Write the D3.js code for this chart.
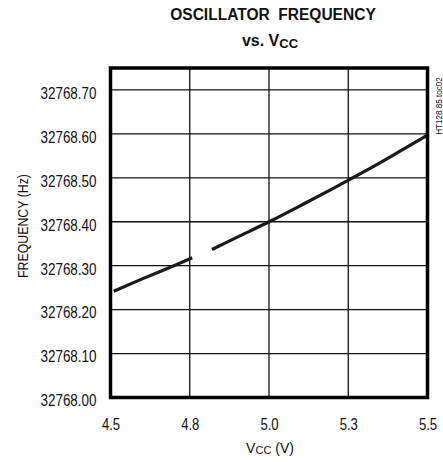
<!DOCTYPE html>
<html><head><meta charset="utf-8">
<script src="https://cdn.jsdelivr.net/npm/d3@7"></script>
<style>
body{margin:0;background:#fff;}
svg{display:block;}
text{font-family:"Liberation Sans Narrow","Arial Narrow","Liberation Sans",Arial,sans-serif;fill:#111;}
</style></head>
<body>
<svg id="c" width="443" height="462"></svg>
<script>
// Data (x in axis units; grid is equally spaced at the labelled positions)
const xTickPos = [4.5, 4.75, 5.0, 5.25, 5.5];
const xTickLabels = ["4.5", "4.8", "5.0", "5.3", "5.5"];
const yTicks = [32768.00, 32768.10, 32768.20, 32768.30, 32768.40, 32768.50, 32768.60, 32768.70];
const seg1X = [4.51, 4.6, 4.7, 4.758];
const seg1Y = [32768.242, 32768.270, 32768.300, 32768.318];
const seg2X = [4.82, 4.9, 5.0, 5.1, 5.2, 5.3, 5.4, 5.5];
const seg2Y = [32768.337, 32768.365, 32768.400, 32768.437, 32768.475, 32768.514, 32768.555, 32768.597];

const svg = d3.select("#c");
const L = 110.5, R = 427.5, T = 68, B = 397.5;
const x = d3.scaleLinear().domain([4.5, 5.5]).range([L, R]);
const y = d3.scaleLinear().domain([32768.00, 32768.75]).range([B, T]);

// condense text horizontally (no narrow font installed)
function narrow(sel, k) {
  sel.each(function () {
    const w = this.getComputedTextLength();
    d3.select(this).attr("textLength", w * k).attr("lengthAdjust", "spacingAndGlyphs");
  });
}

// grid
const g = svg.append("g");
g.selectAll(".vg").data(xTickPos.slice(1, -1)).enter().append("line")
  .attr("x1", d => x(d)).attr("x2", d => x(d)).attr("y1", T).attr("y2", B)
  .attr("stroke", "#111").attr("stroke-width", 1.3);
g.selectAll(".hg").data(yTicks.slice(1)).enter().append("line")
  .attr("x1", L).attr("x2", R).attr("y1", d => y(d)).attr("y2", d => y(d))
  .attr("stroke", "#111").attr("stroke-width", 1.3);

// curves
const line = d3.line().x(d => x(d[0])).y(d => y(d[1])).curve(d3.curveMonotoneX);
[[seg1X, seg1Y], [seg2X, seg2Y]].forEach(([xs, ys]) => {
  svg.append("path").datum(xs.map((v, i) => [v, ys[i]]))
    .attr("d", line).attr("fill", "none").attr("stroke", "#1a1a1a")
    .attr("stroke-width", 3.2);
});

// frame
svg.append("rect").attr("x", L).attr("y", T).attr("width", R - L).attr("height", B - T)
  .attr("fill", "none").attr("stroke", "#000").attr("stroke-width", 3.5);

// y axis labels
const yAxis = d3.axisLeft(y).tickValues(yTicks).tickFormat(d3.format(".2f")).tickSize(0).tickPadding(14);
const ya = svg.append("g").attr("transform", `translate(${L},0)`).call(yAxis);
ya.select(".domain").remove();
ya.attr("font-family", null).attr("font-size", null);
ya.selectAll("text").attr("font-size", 16).attr("fill", "#111").attr("dy", "0.52em");
narrow(ya.selectAll("text"), 0.84);

// x axis labels
const xAxis = d3.axisBottom(x).tickValues(xTickPos).tickFormat((d, i) => xTickLabels[i]).tickSize(0).tickPadding(21);
const xa = svg.append("g").attr("transform", `translate(0,${B})`).call(xAxis);
xa.select(".domain").remove();
xa.attr("font-family", null).attr("font-size", null);
xa.selectAll("text").attr("font-size", 16).attr("fill", "#111");
narrow(xa.selectAll("text"), 0.82);

// titles
const t1 = svg.append("text").attr("x", 273).attr("y", 20).attr("text-anchor", "middle")
  .attr("font-size", 16).attr("font-weight", "bold").attr("xml:space", "preserve")
  .text("OSCILLATOR  FREQUENCY");
narrow(t1, 0.97);
const t2 = svg.append("text").attr("x", 270).attr("y", 46).attr("text-anchor", "middle")
  .attr("font-size", 16).attr("font-weight", "bold");
t2.append("tspan").text("vs. V");
t2.append("tspan").attr("font-size", 13).attr("dy", 2).text("CC");

// axis title (x)
const xt = svg.append("text").attr("x", 270).attr("y", 453).attr("text-anchor", "middle").attr("font-size", 14);
xt.append("tspan").text("V");
xt.append("tspan").attr("font-size", 11).attr("dy", 1).text("CC");
xt.append("tspan").attr("dy", -1).text(" (V)");

// axis title (y)
const yt = svg.append("text").attr("transform", "translate(28,226) rotate(-90)").attr("text-anchor", "middle")
  .attr("font-size", 14).text("FREQUENCY (Hz)");
narrow(yt, 0.88);

const wm = svg.append("text").attr("transform", "translate(442,106) rotate(-90)").attr("text-anchor", "middle")
  .attr("font-size", 8.5).text("HT128 85 toc02");
narrow(wm, 0.95);
</script>
</body></html>
